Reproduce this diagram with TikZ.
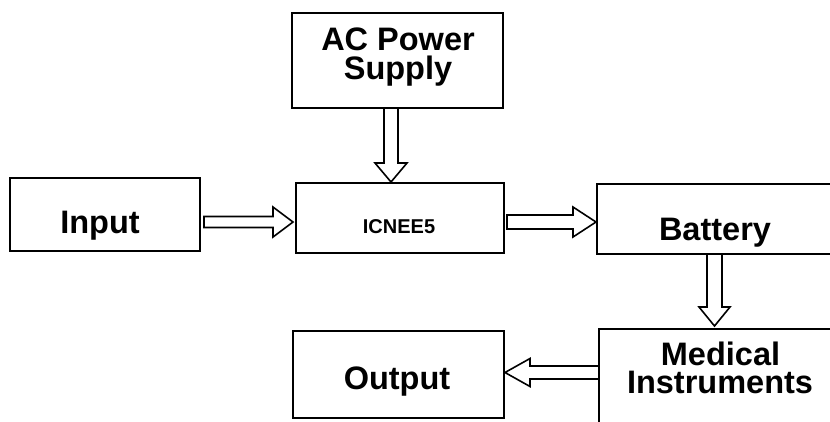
\documentclass[tikz,border=0pt]{standalone}
\usepackage{fontspec}
\setmainfont{Liberation Sans}
\usetikzlibrary{calc}
\tikzset{
  box/.style={draw=black, line width=2pt, fill=white, inner sep=0pt, outer sep=0pt},
  lbl/.style={inner sep=0pt, anchor=base, font=\fontsize{32.5}{29}\selectfont\bfseries},
  blk/.style={draw=black, line width=1.6pt, fill=white, line join=miter},
}
\newcommand\blockarrow[5]{%
  \coordinate (H) at ($(#2)!#5!(#1)$);
  \draw[blk] ($(#1)!#3!90:(#2)$) -- ($(H)!#3!90:(#2)$) -- ($(H)!#4!90:(#2)$) -- (#2)
    -- ($(H)!#4!-90:(#2)$) -- ($(H)!#3!-90:(#2)$) -- ($(#1)!#3!-90:(#2)$) -- cycle;}
\begin{document}
\begin{tikzpicture}[x=1pt,y=-1pt]
\useasboundingbox (0,0) rectangle (830,421);
\clip (0,0) rectangle (830,421);
\fill[white] (0,0) rectangle (830,421);
% boxes
\node[box, minimum width=211pt, minimum height=95pt] (ac) at (397.5,60.5) {};
\node[box, minimum width=190pt, minimum height=73pt] (in) at (105,214.5) {};
\node[box, minimum width=208pt, minimum height=70pt] (ic) at (400,218) {};
\node[box, minimum width=253pt, minimum height=70pt] (bat) at (723.5,219) {};
\node[box, minimum width=251pt, minimum height=111pt] (med) at (724.5,384.5) {};
\node[box, minimum width=211pt, minimum height=87pt] (out) at (398.5,374.5) {};
% texts
\node[lbl] (acT1) at (398,50) {AC Power};
\node[lbl] (acT2) at (398,79) {Supply};
\node[lbl] (inT) at (100,233) {Input};
\node[lbl, font=\fontsize{20}{22}\selectfont\bfseries] (icT) at (399,233) {ICNEE5};
\node[lbl] (batT) at (715,240.5) {Battery};
\node[lbl] (medT1) at (720.5,365) {Medical};
\node[lbl] (medT2) at (720,393.3) {Instruments};
\node[lbl] (outT) at (397,389) {Output};
% arrow end points
\coordinate (a1s) at ([shift={(4,7.5)}]in.east);
\coordinate (a1t) at ([shift={(-3,4)}]ic.west);
\coordinate (a2s) at ([shift={(-6.5,0)}]ac.south);
\coordinate (a2t) at ([shift={(-9,-1)}]ic.north);
\coordinate (a3s) at ([shift={(3,4)}]ic.east);
\coordinate (a3t) at ([shift={(-1,3)}]bat.west);
\coordinate (a4s) at ([shift={(117.5,0)}]bat.south west);
\coordinate (a4t) at ([shift={(115.5,-3)}]med.north west);
\coordinate (a5s) at ([shift={(0,-12)}]med.west);
\coordinate (a5t) at ([shift={(1,-2)}]out.east);
% block arrows
\blockarrow{a1s}{a1t}{5.5pt}{15pt}{20pt}
\blockarrow{a2s}{a2t}{7pt}{16pt}{19pt}
\blockarrow{a3s}{a3t}{7pt}{15pt}{23pt}
\blockarrow{a4s}{a4t}{7.5pt}{15.5pt}{19pt}
\blockarrow{a5s}{a5t}{6.5pt}{14pt}{25pt}
\end{tikzpicture}
\end{document}
